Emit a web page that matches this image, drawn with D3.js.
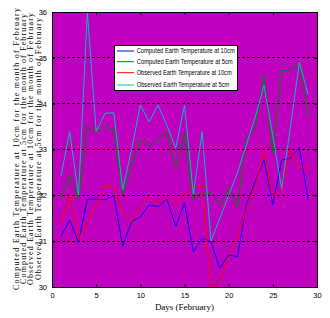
<!DOCTYPE html>
<html>
<head>
<meta charset="utf-8">
<script src="https://cdn.jsdelivr.net/npm/d3@7"></script>
<style>
  body { margin: 0; background: #fff; }
  .tick text { font-family: 'Liberation Sans', sans-serif; font-size: 7.5px; }
</style>
</head>
<body>
<div id="svg-container"></div>
<script>
/* global d3 */
(function () {
  'use strict'

  // Days of February
  var days = [1, 2, 3, 4, 5, 6, 7, 8, 9, 10, 11, 12, 13, 14, 15, 16, 17, 18, 19, 20,
    21, 22, 23, 24, 25, 26, 27, 28, 29]

  var computed10 = [31.10, 31.46, 30.97, 31.92, 31.92, 31.90, 32.00, 30.89, 31.42, 31.53,
    31.79, 31.75, 31.92, 31.32, 31.83, 30.77, 31.06, 30.99, 30.41, 30.70,
    30.66, 31.80, 32.30, 32.77, 31.79, 32.77, 32.81, 33.05, 31.90]

  var computed5 = [31.94, 32.44, 31.90, 33.51, 33.36, 33.50, 33.43, 32.04, 32.63, 33.21,
    33.08, 33.21, 33.39, 32.59, 33.35, 31.90, 32.08, 32.05, 31.79, 32.15,
    31.75, 33.24, 33.46, 34.63, 32.92, 34.73, 34.73, 34.90, 33.72]

  var observed10 = [31.42, 32.00, 31.03, 31.40, 31.77, 32.19, 32.19, 31.60, 31.42, 31.79,
    31.97, 31.83, 31.97, 31.80, 32.00, 32.19, 32.20, 29.98, 30.15, 30.65,
    31.10, 31.70, 32.20, 32.95, 31.97, 32.19, 33.00, 32.60, 32.60]

  var observed5 = [32.41, 33.39, 32.00, 36.00, 33.39, 33.79, 33.80, 32.12, 33.00, 33.97,
    33.61, 33.97, 33.53, 33.03, 33.97, 32.02, 33.39, 31.01, 31.50, 32.00,
    32.50, 33.10, 33.70, 34.40, 33.30, 32.15, 33.50, 34.90, 34.20]

  var seriesNames = [
    'Computed Earth Temperature at 10cm',
    'Computed Earth Temperature at 5cm',
    'Observed Earth Temperature at 10cm',
    'Observed Earth Temperature at 5cm'
  ]
  var seriesColors = ['#0000ff', '#008000', '#ff0000', '#00bfbf']

  var xTicks = [0, 5, 10, 15, 20, 25, 30]
  var yTicks = [30, 31, 32, 33, 34, 35, 36]
  var gridValues = [31, 32, 33, 34, 35]

  var yLabelLines = [
    'Computed Earth Temperature at 10cm  for the month of February',
    'Computed Earth Temperature at 5cm  for the month of February',
    'Observed Earth Temperature at 10cm  for the month of February',
    'Observed Earth Temperature at 5cm  for the month of February'
  ]

  // Dimensions
  var dimensions = { w: 330, h: 318 }
  var offset = { left: 52, top: 12, right: 13, bottom: 31 }
  var innerW = dimensions.w - offset.left - offset.right
  var innerH = dimensions.h - offset.top - offset.bottom

  var svg = d3.select('#svg-container').append('svg')
    .attr('width', dimensions.w)
    .attr('height', dimensions.h)

  var scaleX = d3.scaleLinear().domain([0, 30]).range([0, innerW])
  var scaleY = d3.scaleLinear().domain([30, 36]).range([innerH, 0])

  var g = svg.append('g')
    .attr('transform', 'translate(' + offset.left + ',' + offset.top + ')')

  // Plot background
  g.append('rect')
    .attr('width', innerW)
    .attr('height', innerH)
    .attr('fill', '#bf00bf')

  // Dashed grid
  g.selectAll('.grid').data(gridValues).enter().append('line')
    .attr('class', 'grid')
    .attr('x1', 0)
    .attr('x2', innerW)
    .attr('y1', function (d) { return scaleY(d) })
    .attr('y2', function (d) { return scaleY(d) })
    .attr('stroke', '#000')
    .attr('stroke-width', 1)
    .attr('stroke-dasharray', '3,2')
    .attr('shape-rendering', 'crispEdges')

  // Lines
  var allSeries = [computed10, computed5, observed10, observed5]
  var line = d3.line()
    .x(function (d, i) { return scaleX(days[i]) })
    .y(function (d) { return scaleY(d) })

  allSeries.forEach(function (values, k) {
    g.append('path').datum(values)
      .attr('d', line)
      .attr('fill', 'none')
      .attr('stroke', seriesColors[k])
      .attr('stroke-width', 1)
  })

  // Axes with inward ticks
  var bottomAxis = d3.axisBottom(scaleX).tickValues(xTicks).tickSizeInner(-3).tickSizeOuter(0).tickPadding(6)
  var topAxis = d3.axisTop(scaleX).tickValues(xTicks).tickSizeInner(-3).tickSizeOuter(0).tickFormat('')
  var leftAxis = d3.axisLeft(scaleY).tickValues(yTicks).tickSizeInner(-3).tickSizeOuter(0).tickPadding(5)
    .tickFormat(d3.format('d'))
  var rightAxis = d3.axisRight(scaleY).tickValues(yTicks).tickSizeInner(-3).tickSizeOuter(0).tickFormat('')

  g.append('g').attr('transform', 'translate(0,' + innerH + ')').call(bottomAxis)
  g.append('g').call(topAxis)
  g.append('g').call(leftAxis)
  g.append('g').attr('transform', 'translate(' + innerW + ',0)').call(rightAxis)
  g.selectAll('.domain').remove()
  g.selectAll('.tick line').attr('stroke', '#000')
  g.selectAll('.tick text').attr('fill', '#000')

  // Frame
  g.append('rect')
    .attr('width', innerW)
    .attr('height', innerH)
    .attr('fill', 'none')
    .attr('stroke', '#000')
    .attr('stroke-width', 1)
    .attr('shape-rendering', 'crispEdges')

  // Legend
  var legend = g.append('g').attr('transform', 'translate(62,33)')
  legend.append('rect')
    .attr('width', 123)
    .attr('height', 45)
    .attr('fill', '#fff')
    .attr('stroke', '#000')
    .attr('shape-rendering', 'crispEdges')
  var legendRows = [6, 16.7, 27.7, 40]
  var legendLens = [98, 96, 95, 92.6]
  seriesNames.forEach(function (name, k) {
    legend.append('line')
      .attr('x1', 3).attr('x2', 20)
      .attr('y1', legendRows[k]).attr('y2', legendRows[k])
      .attr('stroke', seriesColors[k])
      .attr('stroke-width', 1)
    legend.append('text')
      .attr('x', 22.7)
      .attr('y', legendRows[k] + 2.3)
      .attr('font-family', 'Liberation Sans, sans-serif')
      .attr('font-size', 6.5)
      .attr('textLength', legendLens[k])
      .attr('lengthAdjust', 'spacingAndGlyphs')
      .text(name)
  })

  // Y label (four rotated lines)
  var yLabelX = [18.5, 26, 33.3, 40.7]
  var yLabelLen = [282, 270, 272, 262]
  yLabelLines.forEach(function (txt, k) {
    svg.append('text')
      .attr('transform', 'translate(' + yLabelX[k] + ',149) rotate(-90)')
      .attr('text-anchor', 'middle')
      .attr('font-family', 'Liberation Serif, serif')
      .attr('font-size', 8)
      .attr('textLength', yLabelLen[k])
      .attr('lengthAdjust', 'spacing')
      .text(txt)
  })

  // X label
  svg.append('text')
    .attr('x', 184.5)
    .attr('y', 310)
    .attr('text-anchor', 'middle')
    .attr('font-family', 'Liberation Serif, serif')
    .attr('font-size', 9)
    .text('Days (February)')
}())
</script>
</body>
</html>
